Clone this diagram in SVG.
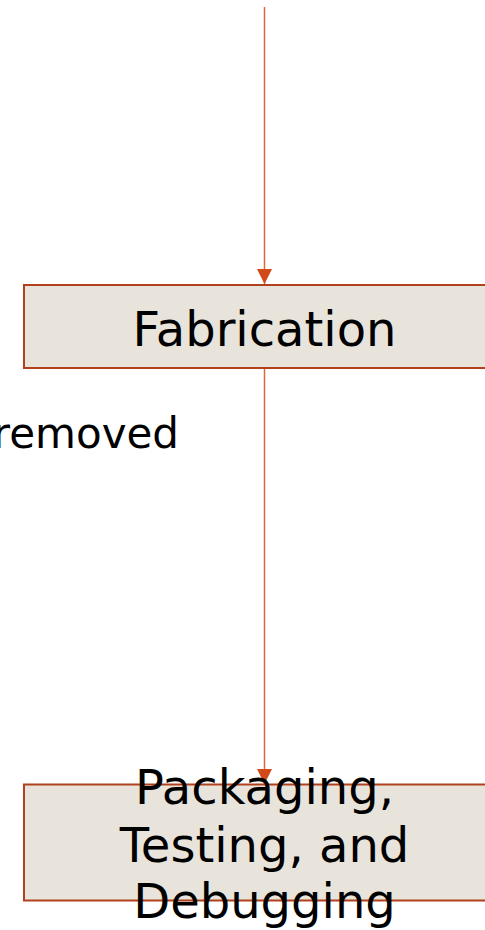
<svg xmlns="http://www.w3.org/2000/svg" width="485" height="930" viewBox="0 0 485 930">
<style>
.box{fill:#e8e4dc;stroke:#b0411c;stroke-width:2}
.lbl{font-family:"DejaVu Sans",sans-serif;font-size:48px;fill:#000;text-anchor:middle}
.edge{stroke:#dd6a3e;stroke-width:1.5;fill:none}
.elbl{font-family:"DejaVu Sans",sans-serif;font-size:42px;fill:#000;text-anchor:end}
</style>
<defs>
<marker id="ah" markerWidth="15" markerHeight="15" refX="15" refY="7.5" orient="auto" markerUnits="userSpaceOnUse">
<path d="M0,0 L15,7.5 L0,15 Z" fill="#d14a18"/>
</marker>
</defs>
<g id="connectors">
<line class="edge" x1="264.5" y1="7" x2="264.5" y2="284" marker-end="url(#ah)"/>
<line class="edge" x1="264.5" y1="369" x2="264.5" y2="784" marker-end="url(#ah)"/>
<text class="elbl" x="179" y="448">removed</text>
</g>
<g id="fabrication">
<rect class="box" x="24" y="285" width="482" height="83"/>
<text class="lbl" x="264.5" y="346">Fabrication</text>
</g>
<g id="packaging">
<rect class="box" x="24" y="784.5" width="482" height="116"/>
<text class="lbl" x="264.5" y="804">Packaging,</text>
<text class="lbl" x="264.5" y="862">Testing, and</text>
<text class="lbl" x="264.5" y="918">Debugging</text>
</g>
</svg>
